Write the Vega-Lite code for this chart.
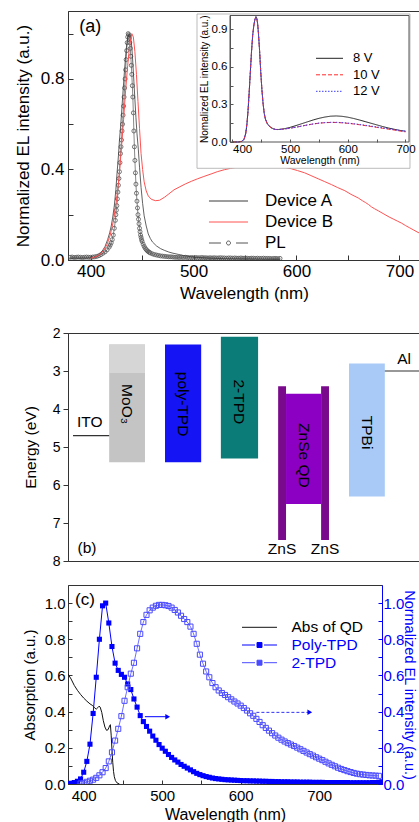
{
"$schema":"https://vega.github.io/schema/vega-lite/v6.json",
"background":"white",
"padding":{"left":13,"top":10,"right":0,"bottom":0},
"config":{
 "font":"Liberation Sans",
 "view":{"stroke":"#333","strokeWidth":1},
 "axis":{"grid":false,"domainColor":"#333","tickColor":"#333","labelColor":"#000","titleColor":"#000","titleFontWeight":"normal","labelFlush":false,"labelOverlap":false,"tickCount":50,"labelFont":"Liberation Sans","titleFont":"Liberation Sans","domainWidth":1,"tickWidth":1},
 "legend":{"labelFont":"Liberation Sans","padding":0,"titlePadding":0},
 "text":{"font":"Liberation Sans"}
},
"datasets":{
 "pl":[{"w":380,"v":0.012},{"w":382,"v":0.013},{"w":384,"v":0.011},{"w":386,"v":0.012},{"w":388,"v":0.013},{"w":390,"v":0.012},{"w":392,"v":0.011},{"w":394,"v":0.012},{"w":396,"v":0.013},{"w":398,"v":0.012},{"w":400,"v":0.012},{"w":402,"v":0.013},{"w":404,"v":0.014},{"w":406,"v":0.016},{"w":408,"v":0.019},{"w":410,"v":0.024},{"w":412,"v":0.03},{"w":414,"v":0.036},{"w":416,"v":0.045},{"w":418,"v":0.057},{"w":419,"v":0.066},{"w":420,"v":0.076},{"w":421,"v":0.09},{"w":422,"v":0.11},{"w":423,"v":0.14},{"w":424,"v":0.175},{"w":424.5,"v":0.2},{"w":425,"v":0.22},{"w":425.5,"v":0.24},{"w":426,"v":0.27},{"w":426.5,"v":0.3},{"w":427,"v":0.33},{"w":427.5,"v":0.36},{"w":428,"v":0.39},{"w":428.5,"v":0.43},{"w":429,"v":0.47},{"w":429.5,"v":0.5},{"w":430,"v":0.53},{"w":430.5,"v":0.57},{"w":431,"v":0.6},{"w":431.5,"v":0.64},{"w":432,"v":0.68},{"w":432.5,"v":0.72},{"w":433,"v":0.76},{"w":433.5,"v":0.8},{"w":434,"v":0.84},{"w":434.5,"v":0.885},{"w":435,"v":0.925},{"w":435.5,"v":0.96},{"w":436,"v":0.985},{"w":436.5,"v":1.0},{"w":437,"v":0.995},{"w":437.5,"v":0.98},{"w":438,"v":0.96},{"w":438.5,"v":0.935},{"w":439,"v":0.9},{"w":439.5,"v":0.86},{"w":440,"v":0.82},{"w":440.5,"v":0.77},{"w":441,"v":0.72},{"w":441.5,"v":0.65},{"w":442,"v":0.57},{"w":442.5,"v":0.5},{"w":443,"v":0.44},{"w":443.5,"v":0.385},{"w":444,"v":0.335},{"w":444.5,"v":0.295},{"w":445,"v":0.26},{"w":445.5,"v":0.23},{"w":446,"v":0.2},{"w":446.5,"v":0.18},{"w":447,"v":0.16},{"w":447.5,"v":0.14},{"w":448,"v":0.125},{"w":448.5,"v":0.11},{"w":449,"v":0.1},{"w":449.5,"v":0.09},{"w":450,"v":0.082},{"w":451,"v":0.07},{"w":452,"v":0.06},{"w":453,"v":0.052},{"w":454,"v":0.046},{"w":455,"v":0.041},{"w":456,"v":0.037},{"w":457,"v":0.034},{"w":458,"v":0.031},{"w":460,"v":0.027},{"w":462,"v":0.024},{"w":464,"v":0.022},{"w":466,"v":0.02},{"w":468,"v":0.018},{"w":470,"v":0.017},{"w":472,"v":0.016},{"w":474,"v":0.015},{"w":476,"v":0.014},{"w":478,"v":0.014},{"w":480,"v":0.013},{"w":482,"v":0.012},{"w":484,"v":0.012},{"w":486,"v":0.011},{"w":488,"v":0.012},{"w":490,"v":0.011},{"w":492,"v":0.012},{"w":494,"v":0.011},{"w":496,"v":0.01},{"w":498,"v":0.011},{"w":500,"v":0.01},{"w":502,"v":0.011},{"w":504,"v":0.01},{"w":506,"v":0.01},{"w":508,"v":0.011},{"w":510,"v":0.01},{"w":512,"v":0.01},{"w":514,"v":0.009},{"w":516,"v":0.01},{"w":518,"v":0.009},{"w":520,"v":0.01},{"w":522,"v":0.009},{"w":524,"v":0.009},{"w":526,"v":0.01},{"w":528,"v":0.009},{"w":530,"v":0.009},{"w":532,"v":0.008},{"w":534,"v":0.009},{"w":536,"v":0.009},{"w":538,"v":0.008},{"w":540,"v":0.009},{"w":542,"v":0.008},{"w":544,"v":0.008},{"w":546,"v":0.009},{"w":548,"v":0.008},{"w":550,"v":0.008},{"w":552,"v":0.008},{"w":554,"v":0.007},{"w":556,"v":0.008},{"w":558,"v":0.008},{"w":560,"v":0.007},{"w":562,"v":0.008},{"w":564,"v":0.007},{"w":566,"v":0.007},{"w":568,"v":0.008},{"w":570,"v":0.007},{"w":572,"v":0.007},{"w":574,"v":0.007},{"w":576,"v":0.006},{"w":578,"v":0.007},{"w":580,"v":0.007},{"w":582,"v":0.006},{"w":584,"v":0.007}],
 "devA":[{"w":378,"v":0.008},{"w":385,"v":0.008},{"w":392,"v":0.008},{"w":398,"v":0.009},{"w":402,"v":0.01},{"w":405,"v":0.014},{"w":408,"v":0.022},{"w":410,"v":0.032},{"w":412,"v":0.045},{"w":414,"v":0.06},{"w":416.5,"v":0.09},{"w":418.5,"v":0.12},{"w":420,"v":0.15},{"w":421.5,"v":0.19},{"w":423,"v":0.24},{"w":424.5,"v":0.31},{"w":425.6,"v":0.38},{"w":427,"v":0.46},{"w":428,"v":0.53},{"w":429.3,"v":0.6},{"w":430.5,"v":0.68},{"w":431.7,"v":0.76},{"w":432.8,"v":0.83},{"w":434,"v":0.9},{"w":435,"v":0.95},{"w":436.3,"v":0.985},{"w":437.6,"v":1.0},{"w":438.8,"v":0.985},{"w":440,"v":0.94},{"w":441,"v":0.87},{"w":442,"v":0.79},{"w":443,"v":0.71},{"w":444,"v":0.63},{"w":445,"v":0.56},{"w":446.3,"v":0.49},{"w":447.5,"v":0.41},{"w":449,"v":0.32},{"w":450.5,"v":0.25},{"w":452,"v":0.195},{"w":454,"v":0.15},{"w":456,"v":0.115},{"w":458,"v":0.095},{"w":460,"v":0.08},{"w":464,"v":0.062},{"w":468,"v":0.05},{"w":472,"v":0.042},{"w":476,"v":0.035},{"w":480,"v":0.03},{"w":485,"v":0.025},{"w":490,"v":0.02},{"w":497,"v":0.015},{"w":505,"v":0.011},{"w":515,"v":0.008},{"w":530,"v":0.006},{"w":545,"v":0.005},{"w":560,"v":0.004},{"w":575,"v":0.003},{"w":584,"v":0.003}],
 "devB":[{"w":400,"v":0.008},{"w":405,"v":0.014},{"w":410,"v":0.028},{"w":413,"v":0.045},{"w":416,"v":0.07},{"w":419,"v":0.11},{"w":422,"v":0.17},{"w":425,"v":0.26},{"w":427.5,"v":0.36},{"w":430,"v":0.5},{"w":432,"v":0.62},{"w":434,"v":0.75},{"w":436,"v":0.86},{"w":438,"v":0.95},{"w":440,"v":1.0},{"w":441.5,"v":0.985},{"w":443,"v":0.92},{"w":444.5,"v":0.82},{"w":446,"v":0.7},{"w":447.5,"v":0.58},{"w":449,"v":0.47},{"w":450.5,"v":0.4},{"w":452,"v":0.345},{"w":454,"v":0.305},{"w":456,"v":0.283},{"w":459,"v":0.268},{"w":463,"v":0.262},{"w":467,"v":0.264},{"w":472,"v":0.278},{"w":476,"v":0.292},{"w":481,"v":0.31},{"w":486,"v":0.322},{"w":492,"v":0.336},{"w":498,"v":0.348},{"w":504,"v":0.359},{"w":510,"v":0.369},{"w":517,"v":0.38},{"w":523,"v":0.39},{"w":530,"v":0.399},{"w":536,"v":0.405},{"w":542,"v":0.41},{"w":548,"v":0.415},{"w":553,"v":0.418},{"w":559,"v":0.42},{"w":565,"v":0.421},{"w":570,"v":0.42},{"w":575,"v":0.418},{"w":580,"v":0.416},{"w":585,"v":0.412},{"w":590,"v":0.408},{"w":595,"v":0.403},{"w":601,"v":0.395},{"w":608,"v":0.385},{"w":614,"v":0.373},{"w":621,"v":0.359},{"w":627,"v":0.347},{"w":634,"v":0.333},{"w":640,"v":0.32},{"w":647,"v":0.306},{"w":653,"v":0.29},{"w":660,"v":0.274},{"w":664,"v":0.262},{"w":667,"v":0.254},{"w":670,"v":0.245},{"w":673,"v":0.234},{"w":676,"v":0.226},{"w":680,"v":0.216},{"w":685,"v":0.203},{"w":690,"v":0.19},{"w":694,"v":0.181},{"w":698,"v":0.172},{"w":702,"v":0.163},{"w":706,"v":0.152},{"w":710,"v":0.142},{"w":714,"v":0.132},{"w":718,"v":0.122},{"w":720,"v":0.118}],
 "inset":[
  {"v":"8 V","w":400,"i":0},{"v":"8 V","w":410,"i":0},{"v":"8 V","w":416,"i":0.005},{"v":"8 V","w":420,"i":0.02},{"v":"8 V","w":423,"i":0.07},{"v":"8 V","w":425,"i":0.14},{"v":"8 V","w":427,"i":0.25},{"v":"8 V","w":429,"i":0.4},{"v":"8 V","w":431,"i":0.56},{"v":"8 V","w":433,"i":0.72},{"v":"8 V","w":435,"i":0.85},{"v":"8 V","w":437,"i":0.93},{"v":"8 V","w":439,"i":0.98},{"v":"8 V","w":440.7,"i":1.0},{"v":"8 V","w":442,"i":0.99},{"v":"8 V","w":443.5,"i":0.95},{"v":"8 V","w":445,"i":0.87},{"v":"8 V","w":447,"i":0.73},{"v":"8 V","w":449,"i":0.56},{"v":"8 V","w":451,"i":0.42},{"v":"8 V","w":453,"i":0.31},{"v":"8 V","w":455,"i":0.23},{"v":"8 V","w":457,"i":0.185},{"v":"8 V","w":460,"i":0.15},{"v":"8 V","w":463,"i":0.13},{"v":"8 V","w":467,"i":0.115},{"v":"8 V","w":471,"i":0.105},{"v":"8 V","w":475,"i":0.1},{"v":"8 V","w":480,"i":0.1},{"v":"8 V","w":490,"i":0.106},{"v":"8 V","w":500,"i":0.117},{"v":"8 V","w":510,"i":0.131},{"v":"8 V","w":520,"i":0.146},{"v":"8 V","w":530,"i":0.161},{"v":"8 V","w":540,"i":0.176},{"v":"8 V","w":550,"i":0.189},{"v":"8 V","w":560,"i":0.199},{"v":"8 V","w":570,"i":0.206},{"v":"8 V","w":580,"i":0.208},{"v":"8 V","w":590,"i":0.205},{"v":"8 V","w":600,"i":0.198},{"v":"8 V","w":610,"i":0.188},{"v":"8 V","w":620,"i":0.176},{"v":"8 V","w":630,"i":0.163},{"v":"8 V","w":640,"i":0.15},{"v":"8 V","w":650,"i":0.137},{"v":"8 V","w":660,"i":0.124},{"v":"8 V","w":670,"i":0.112},{"v":"8 V","w":680,"i":0.102},{"v":"8 V","w":690,"i":0.093},{"v":"8 V","w":700,"i":0.086},
  {"v":"10 V","w":400,"i":0},{"v":"10 V","w":410,"i":0},{"v":"10 V","w":416,"i":0.005},{"v":"10 V","w":420,"i":0.02},{"v":"10 V","w":423,"i":0.07},{"v":"10 V","w":425,"i":0.14},{"v":"10 V","w":427,"i":0.25},{"v":"10 V","w":429,"i":0.4},{"v":"10 V","w":431,"i":0.56},{"v":"10 V","w":433,"i":0.72},{"v":"10 V","w":435,"i":0.85},{"v":"10 V","w":437,"i":0.93},{"v":"10 V","w":439,"i":0.98},{"v":"10 V","w":440.7,"i":1.0},{"v":"10 V","w":442,"i":0.99},{"v":"10 V","w":443.5,"i":0.95},{"v":"10 V","w":445,"i":0.87},{"v":"10 V","w":447,"i":0.73},{"v":"10 V","w":449,"i":0.56},{"v":"10 V","w":451,"i":0.42},{"v":"10 V","w":453,"i":0.31},{"v":"10 V","w":455,"i":0.23},{"v":"10 V","w":457,"i":0.185},{"v":"10 V","w":460,"i":0.15},{"v":"10 V","w":463,"i":0.13},{"v":"10 V","w":467,"i":0.115},{"v":"10 V","w":471,"i":0.105},{"v":"10 V","w":475,"i":0.1},{"v":"10 V","w":480,"i":0.099},{"v":"10 V","w":490,"i":0.104},{"v":"10 V","w":500,"i":0.11},{"v":"10 V","w":510,"i":0.118},{"v":"10 V","w":520,"i":0.127},{"v":"10 V","w":530,"i":0.136},{"v":"10 V","w":540,"i":0.144},{"v":"10 V","w":550,"i":0.15},{"v":"10 V","w":560,"i":0.154},{"v":"10 V","w":570,"i":0.156},{"v":"10 V","w":580,"i":0.156},{"v":"10 V","w":590,"i":0.153},{"v":"10 V","w":600,"i":0.149},{"v":"10 V","w":610,"i":0.144},{"v":"10 V","w":620,"i":0.138},{"v":"10 V","w":630,"i":0.131},{"v":"10 V","w":640,"i":0.124},{"v":"10 V","w":650,"i":0.117},{"v":"10 V","w":660,"i":0.11},{"v":"10 V","w":670,"i":0.103},{"v":"10 V","w":680,"i":0.096},{"v":"10 V","w":690,"i":0.088},{"v":"10 V","w":700,"i":0.081},
  {"v":"12 V","w":400,"i":0},{"v":"12 V","w":410,"i":0},{"v":"12 V","w":416,"i":0.005},{"v":"12 V","w":420,"i":0.02},{"v":"12 V","w":423,"i":0.07},{"v":"12 V","w":425,"i":0.14},{"v":"12 V","w":427,"i":0.25},{"v":"12 V","w":429,"i":0.4},{"v":"12 V","w":431,"i":0.56},{"v":"12 V","w":433,"i":0.72},{"v":"12 V","w":435,"i":0.85},{"v":"12 V","w":437,"i":0.93},{"v":"12 V","w":439,"i":0.98},{"v":"12 V","w":440.7,"i":1.0},{"v":"12 V","w":442,"i":0.99},{"v":"12 V","w":443.5,"i":0.95},{"v":"12 V","w":445,"i":0.87},{"v":"12 V","w":447,"i":0.73},{"v":"12 V","w":449,"i":0.56},{"v":"12 V","w":451,"i":0.42},{"v":"12 V","w":453,"i":0.31},{"v":"12 V","w":455,"i":0.23},{"v":"12 V","w":457,"i":0.185},{"v":"12 V","w":460,"i":0.15},{"v":"12 V","w":463,"i":0.13},{"v":"12 V","w":467,"i":0.115},{"v":"12 V","w":471,"i":0.105},{"v":"12 V","w":475,"i":0.1},{"v":"12 V","w":480,"i":0.099},{"v":"12 V","w":490,"i":0.104},{"v":"12 V","w":500,"i":0.11},{"v":"12 V","w":510,"i":0.118},{"v":"12 V","w":520,"i":0.127},{"v":"12 V","w":530,"i":0.136},{"v":"12 V","w":540,"i":0.144},{"v":"12 V","w":550,"i":0.151},{"v":"12 V","w":560,"i":0.155},{"v":"12 V","w":570,"i":0.157},{"v":"12 V","w":580,"i":0.157},{"v":"12 V","w":590,"i":0.155},{"v":"12 V","w":600,"i":0.151},{"v":"12 V","w":610,"i":0.146},{"v":"12 V","w":620,"i":0.14},{"v":"12 V","w":630,"i":0.134},{"v":"12 V","w":640,"i":0.127},{"v":"12 V","w":650,"i":0.12},{"v":"12 V","w":660,"i":0.113},{"v":"12 V","w":670,"i":0.106},{"v":"12 V","w":680,"i":0.099},{"v":"12 V","w":690,"i":0.092},{"v":"12 V","w":700,"i":0.086}],
 "levels":[{"layer":"MoO3","x0":1.15,"x1":2.15,"top":2.3,"bottom":5.4},{"layer":"MoO3 upper","x0":1.15,"x1":2.15,"top":2.3,"bottom":3.05},{"layer":"poly-TPD","x0":2.71,"x1":3.72,"top":2.3,"bottom":5.4},{"layer":"2-TPD","x0":4.27,"x1":5.31,"top":2.1,"bottom":5.3},{"layer":"ZnS","x0":5.87,"x1":6.09,"top":3.4,"bottom":7.45},{"layer":"ZnSe QD","x0":6.09,"x1":7.07,"top":3.6,"bottom":6.5},{"layer":"ZnS","x0":7.07,"x1":7.29,"top":3.4,"bottom":7.45},{"layer":"TPBi","x0":7.85,"x1":8.85,"top":2.8,"bottom":6.3}],
 "electrodes":[{"layer":"ITO","x0":0.14,"x1":1.15,"e":4.7},{"layer":"Al","x0":8.85,"x1":9.83,"e":3.0}],
 "vlabels":[{"t":"MoO₃","x":1.65,"e":3.87},{"t":"poly-TPD","x":3.22,"e":3.87},{"t":"2-TPD","x":4.79,"e":3.81},{"t":"ZnSe QD","x":6.58,"e":5.22},{"t":"TPBi","x":8.35,"e":4.62}],
 "hlabels":[{"t":"ITO","x":0.61,"e":4.33},{"t":"Al","x":9.39,"e":2.69},{"t":"ZnS","x":5.98,"e":7.68},{"t":"ZnS","x":7.18,"e":7.68},{"t":"(b)","x":0.53,"e":7.65}],
 "abs":[{"w":380,"v":0.608},{"w":384,"v":0.58},{"w":388,"v":0.545},{"w":392,"v":0.518},{"w":396,"v":0.495},{"w":400,"v":0.475},{"w":404,"v":0.458},{"w":408,"v":0.443},{"w":411.5,"v":0.433},{"w":414,"v":0.42},{"w":416,"v":0.414},{"w":418,"v":0.422},{"w":419.5,"v":0.43},{"w":421,"v":0.425},{"w":423,"v":0.396},{"w":425,"v":0.35},{"w":427,"v":0.315},{"w":429,"v":0.297},{"w":430.5,"v":0.298},{"w":432,"v":0.31},{"w":433,"v":0.322},{"w":434,"v":0.328},{"w":435,"v":0.27},{"w":436,"v":0.19},{"w":437,"v":0.12},{"w":438,"v":0.07},{"w":439,"v":0.04},{"w":440.5,"v":0.018},{"w":442.5,"v":0.006},{"w":445.5,"v":0.0}],
 "poly":[{"w":380,"v":0.002},{"w":384,"v":0.004},{"w":388,"v":0.008},{"w":392,"v":0.015},{"w":396,"v":0.028},{"w":400,"v":0.065},{"w":404,"v":0.125},{"w":408,"v":0.22},{"w":412,"v":0.39},{"w":416,"v":0.59},{"w":420,"v":0.8},{"w":424,"v":0.985},{"w":428,"v":1.0},{"w":432,"v":0.89},{"w":436,"v":0.76},{"w":440,"v":0.668},{"w":444,"v":0.628},{"w":448,"v":0.606},{"w":452,"v":0.59},{"w":456,"v":0.553},{"w":460,"v":0.522},{"w":464,"v":0.47},{"w":468,"v":0.425},{"w":472,"v":0.378},{"w":476,"v":0.345},{"w":480,"v":0.318},{"w":484,"v":0.292},{"w":488,"v":0.265},{"w":492,"v":0.242},{"w":496,"v":0.218},{"w":500,"v":0.198},{"w":504,"v":0.181},{"w":508,"v":0.163},{"w":512,"v":0.147},{"w":516,"v":0.133},{"w":520,"v":0.121},{"w":524,"v":0.108},{"w":528,"v":0.098},{"w":532,"v":0.088},{"w":536,"v":0.078},{"w":540,"v":0.068},{"w":544,"v":0.059},{"w":548,"v":0.052},{"w":552,"v":0.046},{"w":556,"v":0.041},{"w":560,"v":0.037},{"w":564,"v":0.033},{"w":568,"v":0.03},{"w":572,"v":0.028},{"w":576,"v":0.026},{"w":580,"v":0.024},{"w":584,"v":0.023},{"w":588,"v":0.022},{"w":592,"v":0.021},{"w":596,"v":0.02},{"w":600,"v":0.019},{"w":604,"v":0.018},{"w":608,"v":0.018},{"w":612,"v":0.017},{"w":616,"v":0.017},{"w":620,"v":0.016},{"w":624,"v":0.016},{"w":628,"v":0.015},{"w":632,"v":0.015},{"w":636,"v":0.014},{"w":640,"v":0.014},{"w":644,"v":0.013},{"w":648,"v":0.013},{"w":652,"v":0.012},{"w":656,"v":0.012},{"w":660,"v":0.012},{"w":664,"v":0.011},{"w":668,"v":0.011},{"w":672,"v":0.011},{"w":676,"v":0.01},{"w":680,"v":0.01},{"w":684,"v":0.01},{"w":688,"v":0.01},{"w":692,"v":0.009},{"w":696,"v":0.009},{"w":700,"v":0.009},{"w":704,"v":0.009},{"w":708,"v":0.008},{"w":712,"v":0.008},{"w":716,"v":0.008},{"w":720,"v":0.008},{"w":724,"v":0.008},{"w":728,"v":0.008},{"w":732,"v":0.008},{"w":736,"v":0.008},{"w":740,"v":0.007},{"w":744,"v":0.007},{"w":748,"v":0.007},{"w":752,"v":0.007},{"w":756,"v":0.007},{"w":760,"v":0.007},{"w":764,"v":0.007},{"w":768,"v":0.008},{"w":772,"v":0.008},{"w":776,"v":0.01},{"w":780,"v":0.012}],
 "tpd2":[{"w":396,"v":0.003},{"w":400,"v":0.006},{"w":404,"v":0.012},{"w":408,"v":0.018},{"w":412,"v":0.024},{"w":416,"v":0.034},{"w":420,"v":0.048},{"w":424,"v":0.065},{"w":428,"v":0.088},{"w":432,"v":0.125},{"w":436,"v":0.175},{"w":440,"v":0.24},{"w":444,"v":0.305},{"w":448,"v":0.375},{"w":452,"v":0.46},{"w":456,"v":0.535},{"w":460,"v":0.61},{"w":464,"v":0.67},{"w":468,"v":0.75},{"w":472,"v":0.83},{"w":476,"v":0.895},{"w":480,"v":0.935},{"w":484,"v":0.96},{"w":488,"v":0.975},{"w":492,"v":0.985},{"w":496,"v":0.99},{"w":500,"v":0.99},{"w":504,"v":0.988},{"w":508,"v":0.984},{"w":512,"v":0.975},{"w":516,"v":0.962},{"w":520,"v":0.948},{"w":524,"v":0.93},{"w":528,"v":0.912},{"w":532,"v":0.895},{"w":536,"v":0.87},{"w":540,"v":0.83},{"w":544,"v":0.775},{"w":548,"v":0.715},{"w":552,"v":0.665},{"w":556,"v":0.622},{"w":560,"v":0.59},{"w":564,"v":0.558},{"w":568,"v":0.535},{"w":572,"v":0.517},{"w":576,"v":0.503},{"w":580,"v":0.492},{"w":584,"v":0.48},{"w":588,"v":0.468},{"w":592,"v":0.456},{"w":596,"v":0.445},{"w":600,"v":0.433},{"w":604,"v":0.42},{"w":608,"v":0.406},{"w":612,"v":0.391},{"w":616,"v":0.377},{"w":620,"v":0.36},{"w":624,"v":0.343},{"w":628,"v":0.325},{"w":632,"v":0.31},{"w":636,"v":0.295},{"w":640,"v":0.281},{"w":644,"v":0.268},{"w":648,"v":0.256},{"w":652,"v":0.245},{"w":656,"v":0.235},{"w":660,"v":0.226},{"w":664,"v":0.218},{"w":668,"v":0.21},{"w":672,"v":0.201},{"w":676,"v":0.192},{"w":680,"v":0.183},{"w":684,"v":0.174},{"w":688,"v":0.165},{"w":692,"v":0.157},{"w":696,"v":0.148},{"w":700,"v":0.14},{"w":704,"v":0.132},{"w":708,"v":0.123},{"w":712,"v":0.114},{"w":716,"v":0.106},{"w":720,"v":0.098},{"w":724,"v":0.09},{"w":728,"v":0.083},{"w":732,"v":0.077},{"w":736,"v":0.071},{"w":740,"v":0.066},{"w":744,"v":0.061},{"w":748,"v":0.057},{"w":752,"v":0.054},{"w":756,"v":0.052},{"w":760,"v":0.05},{"w":764,"v":0.048},{"w":768,"v":0.047},{"w":772,"v":0.046},{"w":776,"v":0.045}],
 "arrows":[{"s":"Poly-TPD","x1":478,"x2":507,"y":0.372},{"s":"2-TPD","x1":620,"x2":688,"y":0.396}]
},
"spacing":23,
"resolve":{"scale":{"color":"independent"},"legend":{"color":"independent"}},
"vconcat":[
 {"width":352,"height":249,
  "layer":[
   {"layer":[
     {"data":{"name":"pl"},"transform":[{"calculate":"'PL'","as":"s"}],"mark":{"type":"line","strokeWidth":0.7,"clip":true},
      "encoding":{
       "x":{"field":"w","type":"quantitative","scale":{"domain":[378,720],"nice":false,"zero":false},
            "axis":{"values":[400,450,500,550,600,650,700],"tickCount":50,"format":"d","labelExpr":"datum.value % 100 == 0 ? datum.label : ''","labelOverlap":false,"title":"Wavelength (nm)","labelFontSize":17,"titleFontSize":17,"tickSize":-5,"labelPadding":8,"titlePadding":6}},
       "y":{"field":"v","type":"quantitative","scale":{"domain":[0,1.1],"nice":false},
            "axis":{"values":[0,0.2,0.4,0.6,0.8,1.0],"tickCount":50,"labelExpr":"(round(datum.value*10) % 4 == 0) ? format(datum.value,'.1f') : ''","labelOverlap":false,"title":"Normalized EL intensity (a.u.)","labelFontSize":17,"titleFontSize":17,"tickSize":-5,"labelPadding":9,"titlePadding":8}},
       "color":{"field":"s","type":"nominal","scale":{"domain":["Device A","Device B","PL"],"range":["#3a3a3a","#ff5252","#555555"]},
            "legend":{"orient":"none","legendX":141,"legendY":181.5,"title":null,"labelFontSize":17,"labelColor":"#000","symbolSize":256,"symbolOffset":11,"symbolStrokeWidth":1,"labelOffset":28,"rowPadding":3,"symbolOpacity":1,
              "encode":{"symbols":{"update":{"shape":{"signal":"datum.value === 'PL' ? 'M-2.44,0L-0.94,0M0.94,0L2.44,0M0.25,0A0.25,0.25,0,1,1,-0.25,0A0.25,0.25,0,1,1,0.25,0' : 'M-2.44,0L2.44,0'"},"fill":{"value":"transparent"}}}}}}}},
     {"data":{"name":"pl"},"transform":[{"calculate":"'PL'","as":"s"}],"mark":{"type":"point","filled":false,"size":16,"strokeWidth":0.8,"opacity":1,"clip":true},
      "encoding":{"x":{"field":"w","type":"quantitative"},"y":{"field":"v","type":"quantitative"},"color":{"field":"s","type":"nominal"}}},
     {"data":{"name":"devA"},"transform":[{"calculate":"'Device A'","as":"s"}],"mark":{"type":"line","strokeWidth":0.8,"clip":true},
      "encoding":{"x":{"field":"w","type":"quantitative"},"y":{"field":"v","type":"quantitative"},"color":{"field":"s","type":"nominal"}}},
     {"data":{"name":"devB"},"transform":[{"calculate":"'Device B'","as":"s"}],"mark":{"type":"line","strokeWidth":1,"clip":true},
      "encoding":{"x":{"field":"w","type":"quantitative"},"y":{"field":"v","type":"quantitative"},"color":{"field":"s","type":"nominal"}}},
     {"data":{"values":[{}]},"mark":{"type":"text","text":"(a)","align":"left","baseline":"middle","fontSize":18,"color":"#000"},
      "encoding":{"x":{"datum":389,"type":"quantitative"},"y":{"datum":1.03,"type":"quantitative"}}}
   ]},
   {"layer":[
     {"data":{"values":[{}]},"mark":{"type":"rect","fill":"white","stroke":"#aaaaaa","strokeWidth":0.8},
      "encoding":{"x":{"datum":338.5,"type":"quantitative"},"x2":{"datum":707.8},"y":{"datum":-0.21,"type":"quantitative"},"y2":{"datum":1.022}}},
     {"data":{"name":"inset"},"mark":{"type":"line","strokeWidth":1},
      "encoding":{
       "x":{"field":"w","type":"quantitative","scale":{"domain":[395.7,706.1],"range":[162,341],"nice":false,"zero":false},
            "axis":{"orient":"bottom","offset":-118,"zindex":1,"values":[400,450,500,550,600,650,700],"tickCount":50,"format":"d","labelExpr":"datum.value % 100 == 0 ? datum.label : ''","labelOverlap":false,"labelFlush":3,"title":"Wavelength (nm)","labelFontSize":11.5,"titleFontSize":10.5,"tickSize":-3,"labelPadding":4,"titlePadding":1,"domain":false,"tickColor":"#555"}},
       "y":{"field":"i","type":"quantitative","scale":{"domain":[0,1.01],"range":[131,4.5],"nice":false},
            "axis":{"orient":"left","offset":-162,"zindex":1,"values":[0,0.15,0.3,0.45,0.6,0.75,0.9],"tickCount":50,"labelExpr":"(round(datum.value*100) % 30 == 0) ? format(datum.value,'.1f') : ''","labelOverlap":false,"title":"Nomalized EL intensity (a.u.)","labelFontSize":11.5,"titleFontSize":10,"tickSize":-3,"labelPadding":6,"titlePadding":2,"domainColor":"#555","tickColor":"#555"}},
       "color":{"field":"v","type":"nominal","scale":{"domain":["8 V","10 V","12 V"],"range":["#222222","#ff2a2a","#3a3aff"]},
            "legend":{"orient":"none","legendX":248,"legendY":40.8,"title":null,"labelFontSize":13,"labelColor":"#000","symbolSize":144,"symbolOffset":7,"symbolStrokeWidth":1,"labelOffset":17,"rowPadding":2.5,"symbolOpacity":1,
              "encode":{"symbols":{"update":{"shape":{"value":"M-2.25,0L2.25,0"},"fill":{"value":"transparent"},"strokeDash":{"signal":"datum.value === '10 V' ? [4,2] : datum.value === '12 V' ? [1.5,1.5] : [1,0]"}}}}}},
       "strokeDash":{"field":"v","type":"nominal","scale":{"domain":["8 V","10 V","12 V"],"range":[[1,0],[4,2],[1.5,1.5]]},"legend":null}}},
     {"data":{"values":[{}]},"mark":{"type":"rect","fill":"transparent","stroke":"#555555","strokeWidth":1},
      "encoding":{"x":{"datum":395.7,"type":"quantitative"},"x2":{"datum":706.1},"y":{"datum":0,"type":"quantitative"},"y2":{"datum":1.01}}}
   ]}
  ],
  "resolve":{"scale":{"x":"independent","y":"independent","color":"independent","strokeDash":"independent"},"axis":{"x":"independent","y":"independent"},"legend":{"color":"independent"}}
 },
 {"spacing":15,
  "resolve":{"scale":{"color":"independent"},"legend":{"color":"independent"}},
  "vconcat":[
   {"width":358,"height":228,
    "layer":[
     {"data":{"name":"levels"},"mark":{"type":"rect"},
      "encoding":{
       "x":{"field":"x0","type":"quantitative","scale":{"domain":[0,10],"nice":false,"zero":false},"axis":null},
       "x2":{"field":"x1"},
       "y":{"field":"top","type":"quantitative","scale":{"domain":[2,8],"reverse":true,"nice":false,"zero":false},
            "axis":{"values":[2,3,4,5,6,7,8],"tickCount":50,"format":"d","labelOverlap":false,"title":"Energy (eV)","labelFontSize":14,"titleFontSize":15.5,"tickSize":5,"labelPadding":3,"titlePadding":14}},
       "y2":{"field":"bottom"},
       "color":{"field":"layer","type":"nominal","scale":{"domain":["MoO3","MoO3 upper","poly-TPD","2-TPD","ZnS","ZnSe QD","TPBi"],"range":["#c4c4c4","#d6d6d6","#1414f5","#0c7c78","#7a0a8c","#8c00c4","#a9caf6"]},"legend":null}}},
     {"data":{"name":"electrodes"},"mark":{"type":"rule","color":"#333","strokeWidth":1.2},
      "encoding":{"x":{"field":"x0","type":"quantitative"},"x2":{"field":"x1"},"y":{"field":"e","type":"quantitative"}}},
     {"data":{"name":"vlabels"},"mark":{"type":"text","angle":90,"align":"center","baseline":"middle","fontSize":15.5,"color":"#000"},
      "encoding":{"x":{"field":"x","type":"quantitative"},"y":{"field":"e","type":"quantitative"},"text":{"field":"t"}}},
     {"data":{"name":"hlabels"},"mark":{"type":"text","align":"center","baseline":"middle","fontSize":15.5,"color":"#000"},
      "encoding":{"x":{"field":"x","type":"quantitative"},"y":{"field":"e","type":"quantitative"},"text":{"field":"t"}}}
    ]
   },
   {"width":314,"height":199,
    "layer":[
     {"layer":[
       {"data":{"name":"abs"},"transform":[{"calculate":"'Abs of QD'","as":"s"}],"mark":{"type":"line","strokeWidth":1,"clip":true},
        "encoding":{
         "x":{"field":"w","type":"quantitative","scale":{"domain":[380,780],"nice":false,"zero":false},
              "axis":{"values":[400,450,500,550,600,650,700,750],"tickCount":50,"format":"d","labelExpr":"datum.value % 100 == 0 ? datum.label : ''","labelOverlap":false,"title":"Wavelength (nm)","labelFontSize":15,"titleFontSize":16,"tickSize":-4,"labelPadding":8,"titlePadding":3}},
         "y":{"field":"v","type":"quantitative","scale":{"domain":[0,1.1],"nice":false},
              "axis":{"orient":"left","values":[0,0.1,0.2,0.3,0.4,0.5,0.6,0.7,0.8,0.9,1.0],"tickCount":50,"labelExpr":"(round(datum.value*10) % 2 == 0) ? format(datum.value,'.1f') : ''","labelOverlap":false,"title":"Absorption (a.u.)","labelFontSize":15,"titleFontSize":15,"tickSize":-4,"labelPadding":7,"titlePadding":7}},
         "color":{"field":"s","type":"nominal","scale":{"domain":["Abs of QD","Poly-TPD","2-TPD"],"range":["#111111","#0000ff","#4a4aff"]},
              "legend":{"orient":"none","legendX":174,"legendY":34.3,"title":null,"labelFontSize":15.5,"symbolSize":225,"symbolOffset":9.5,"symbolStrokeWidth":1,"labelOffset":24,"rowPadding":0.7,"symbolOpacity":1,
                "encode":{
                  "symbols":{"update":{"shape":{"signal":"datum.value === 'Abs of QD' ? 'M-2.333,0L2.333,0' : 'M-2.333,0L-0.6,0M0.6,0L2.333,0M-0.33,-0.33L0.33,-0.33L0.33,0.33L-0.33,0.33Z'"},"fill":{"signal":"datum.value === 'Poly-TPD' ? '#0000ff' : datum.value === '2-TPD' ? 'white' : 'transparent'"}}},
                  "labels":{"update":{"fill":{"signal":"datum.value === 'Abs of QD' ? '#000000' : '#0000ff'"}}}}}}}},
       {"data":{"values":[{}]},"mark":{"type":"text","text":"(c)","align":"left","baseline":"middle","fontSize":17,"color":"#000"},
        "encoding":{"x":{"datum":389,"type":"quantitative"},"y":{"datum":1.017,"type":"quantitative"}}}
     ]},
     {"layer":[
       {"data":{"name":"poly"},"transform":[{"calculate":"'Poly-TPD'","as":"s"}],"mark":{"type":"line","strokeWidth":1,"clip":true},
        "encoding":{
         "x":{"field":"w","type":"quantitative"},
         "y":{"field":"v","type":"quantitative","scale":{"domain":[0,1.1],"nice":false},
              "axis":{"orient":"right","values":[0,0.1,0.2,0.3,0.4,0.5,0.6,0.7,0.8,0.9,1.0],"tickCount":50,"labelExpr":"(round(datum.value*10) % 2 == 0) ? format(datum.value,'.1f') : ''","labelOverlap":false,"title":"Normalized EL intensity (a.u.)","labelFontSize":15,"titleFontSize":14.5,"tickSize":-4,"labelPadding":5,"titlePadding":-2,"labelColor":"#0000ff","titleColor":"#0000ff","domainColor":"#0000ff","tickColor":"#0000ff"}},
         "color":{"field":"s","type":"nominal"}}},
       {"data":{"name":"poly"},"transform":[{"calculate":"'Poly-TPD'","as":"s"}],"mark":{"type":"point","shape":"square","filled":true,"size":26,"opacity":1,"clip":true},
        "encoding":{"x":{"field":"w","type":"quantitative"},"y":{"field":"v","type":"quantitative"},"color":{"field":"s","type":"nominal"}}},
       {"data":{"name":"tpd2"},"transform":[{"calculate":"'2-TPD'","as":"s"}],"mark":{"type":"line","strokeWidth":0.8,"clip":true},
        "encoding":{"x":{"field":"w","type":"quantitative"},"y":{"field":"v","type":"quantitative"},"color":{"field":"s","type":"nominal"}}},
       {"data":{"name":"tpd2"},"transform":[{"calculate":"'2-TPD'","as":"s"}],"mark":{"type":"point","shape":"square","filled":false,"size":26,"strokeWidth":1,"opacity":1,"clip":true},
        "encoding":{"x":{"field":"w","type":"quantitative"},"y":{"field":"v","type":"quantitative"},"color":{"field":"s","type":"nominal"}}},
       {"data":{"name":"arrows"},"transform":[{"filter":"datum.s === 'Poly-TPD'"}],"mark":{"type":"rule","color":"#0000ff","strokeWidth":1},
        "encoding":{"x":{"field":"x1","type":"quantitative"},"x2":{"field":"x2"},"y":{"field":"y","type":"quantitative"}}},
       {"data":{"name":"arrows"},"transform":[{"filter":"datum.s === '2-TPD'"}],"mark":{"type":"rule","color":"#3030ff","strokeWidth":1,"strokeDash":[3,2]},
        "encoding":{"x":{"field":"x1","type":"quantitative"},"x2":{"field":"x2"},"y":{"field":"y","type":"quantitative"}}},
       {"data":{"name":"arrows"},"mark":{"type":"point","shape":"triangle-right","filled":true,"size":30,"color":"#0000ff","opacity":1},
        "encoding":{"x":{"field":"x2","type":"quantitative"},"y":{"field":"y","type":"quantitative"}}}
     ]}
    ],
    "resolve":{"scale":{"y":"independent"},"axis":{"y":"independent"}}
   }
  ]
 }
]
}
